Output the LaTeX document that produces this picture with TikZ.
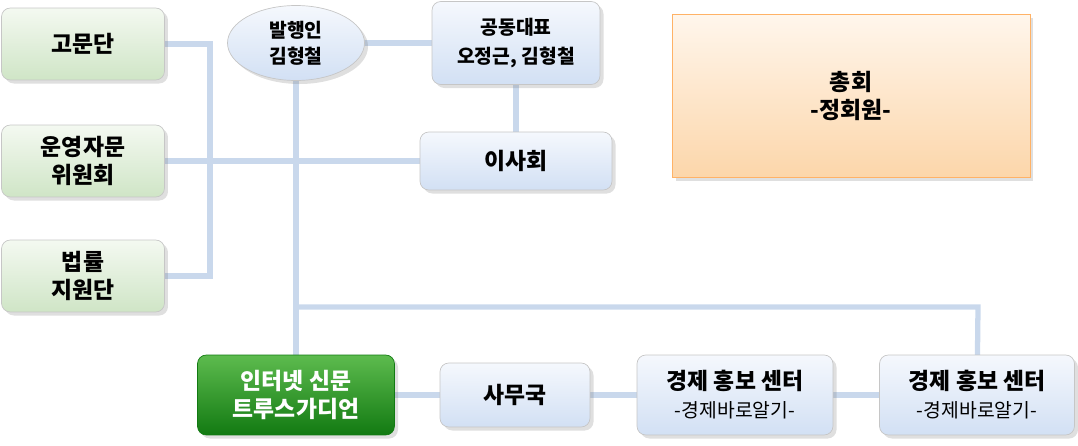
\documentclass[tikz,border=0pt]{standalone}
\usepackage{fontspec}
\newfontfamily\kr{Noto Sans CJK KR}
\usetikzlibrary{shadows,shapes.geometric}
\definecolor{lineblue}{HTML}{C9D8EC}
\definecolor{grntop}{HTML}{F4F9F1}
\definecolor{grnbot}{HTML}{CFE5C6}
\definecolor{blutop}{HTML}{F5F8FD}
\definecolor{blubot}{HTML}{D2E0F4}
\definecolor{orgtop}{HTML}{FFF6EC}
\definecolor{orgbot}{HTML}{FCD6AA}
\definecolor{dgtop}{HTML}{5DBB4E}
\definecolor{dgbot}{HTML}{127A12}
\tikzset{
  box/.style={rounded corners=5pt, draw=gray!45, font=\kr\bfseries\fontsize{13}{16}\selectfont,
    align=center, drop shadow={opacity=0.25,shadow xshift=2pt,shadow yshift=-2pt}},
  greenbox/.style={box, top color=grntop, bottom color=grnbot, minimum width=3.26cm, minimum height=1.44cm},
  bluebox/.style={box, top color=blutop, bottom color=blubot},
  link/.style={draw=lineblue, line width=3pt}
}
\begin{document}
\begin{tikzpicture}[x=0.02cm, y=-0.02cm]
  \useasboundingbox (0,0) rectangle (1078,446);

  % connectors
  \coordinate (bend1) at (210,44);
  \coordinate (bend2) at (210,276);
  \coordinate (split) at (296,307);
  \coordinate (split2) at (978,307);
  \draw[link] (83,44) -- (bend1) -- (bend2) -- (83,276);
  \draw[link] (83,161) -- (516,161);
  \draw[link] (296,43) -- (516,43);
  \draw[link] (516,43) -- (516,161);
  \draw[link] (296,43) -- (296,395);
  \draw[link] (split) -- (split2) -- (977,395);
  \draw[link] (296,395) -- (977,395);

  % nodes
  \node[greenbox] (gomun) at (83,44) {고문단};
  \node[greenbox] (unyeong) at (83,161) {운영자문\\위원회};
  \node[greenbox] (beopryul) at (83,276) {법률\\지원단};
  \node[box, ellipse, rounded corners=0pt, top color=blutop, bottom color=blubot, inner sep=0pt,
        minimum width=2.74cm, minimum height=1.5cm, font=\kr\bfseries\fontsize{11}{15}\selectfont]
        (balhaeng) at (296,43) {발행인\\김형철};
  \node[bluebox, minimum width=3.36cm, minimum height=1.66cm,
        font=\kr\bfseries\fontsize{11}{17}\selectfont] (daepyo) at (516,43) {공동대표\\오정근, 김형철};
  \node[bluebox, minimum width=3.84cm, minimum height=1.16cm] (isa) at (516,161) {이사회};
  \node[box, rounded corners=0pt, draw=orange!60, top color=orgtop, bottom color=orgbot,
        minimum width=7.16cm, minimum height=3.26cm] (chonghoe) at (851,96) {총회\\-정회원-};
  \node[box, draw=dgbot, top color=dgtop, bottom color=dgbot, text=white,
        minimum width=3.94cm, minimum height=1.6cm] (sinmun) at (296,395) {인터넷 신문\\트루스가디언};
  \node[bluebox, minimum width=3.0cm, minimum height=1.28cm] (samu) at (515,395) {사무국};
  \node[bluebox, minimum width=3.92cm, minimum height=1.6cm] (center1) at (735,395)
        {경제 홍보 센터\\{\mdseries\fontsize{11}{15}\selectfont -경제바로알기-}};
  \node[bluebox, minimum width=3.9cm, minimum height=1.6cm] (center2) at (977,395)
        {경제 홍보 센터\\{\mdseries\fontsize{11}{15}\selectfont -경제바로알기-}};
\end{tikzpicture}
\end{document}
